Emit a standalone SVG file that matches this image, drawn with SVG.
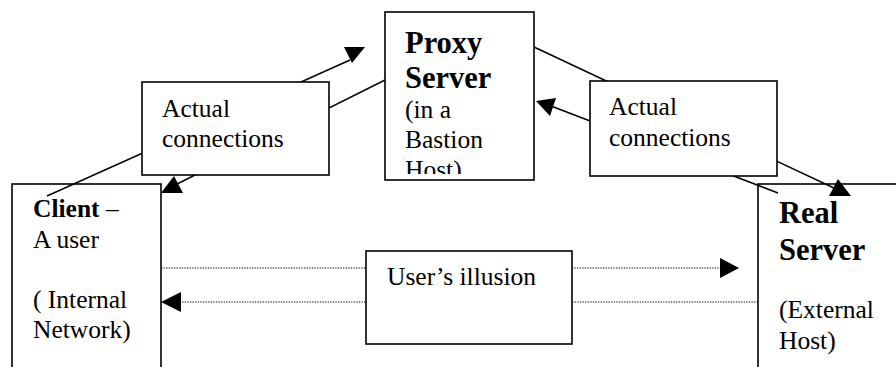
<svg xmlns="http://www.w3.org/2000/svg" width="896" height="367" viewBox="0 0 896 367">
  <style>
    .box { fill: #ffffff; stroke: #000000; stroke-width: 1.6; }
    .txt { font-family: "Liberation Serif", "Times New Roman", serif; font-size: 25.5px; fill: #000000; }
    .big { font-family: "Liberation Serif", "Times New Roman", serif; font-size: 30.5px; font-weight: bold; fill: #000000; }
    .b { font-weight: bold; }
    .line { stroke: #000000; stroke-width: 1.5; fill: none; }
    .dots { stroke: #000000; stroke-width: 1.2; stroke-dasharray: 1.3 1.3; fill: none; }
    .head { fill: #000000; stroke: none; }
  </style>
  <defs>
    <clipPath id="proxyClip">
      <rect x="385" y="12" width="149" height="162"/>
    </clipPath>
  </defs>
  <rect width="896" height="367" fill="#ffffff"/>

  <!-- end hosts -->
  <g id="client">
    <rect class="box" x="12" y="184" width="149" height="200"/>
    <text class="txt" x="33" y="217"><tspan class="b">Client</tspan> –</text>
    <text class="txt" x="33" y="248">A user</text>
    <text class="txt" x="33" y="308">( Internal</text>
    <text class="txt" x="33" y="338">Network)</text>
  </g>
  <g id="real-server">
    <rect class="box" x="758" y="184" width="160" height="200"/>
    <text class="big" x="779" y="223">Real</text>
    <text class="big" x="779" y="260">Server</text>
    <text class="txt" x="779" y="318">(External</text>
    <text class="txt" x="779" y="349">Host)</text>
  </g>

  <!-- connections -->
  <g id="connectors">
    <line class="line" x1="47" y1="196" x2="350" y2="60"/>
    <polygon class="head" points="344,47 365,47 352,63"/>
    <line class="line" x1="385" y1="80" x2="175" y2="185"/>
    <polygon class="head" points="161,193 183,193 174,176"/>
    <line class="line" x1="534" y1="47" x2="836" y2="189"/>
    <polygon class="head" points="838,179 829,196 851,196"/>
    <line class="line" x1="778" y1="193" x2="551" y2="106"/>
    <polygon class="head" points="536,101 556,98 550,116"/>
    <line class="dots" x1="161" y1="268" x2="721" y2="268"/>
    <polygon class="head" points="739,268 720,258 720,278"/>
    <line class="dots" x1="758" y1="302" x2="180" y2="302"/>
    <polygon class="head" points="161,302 181,292 181,312"/>
  </g>

  <!-- labels on the connections -->
  <g id="actual-left">
    <rect class="box" x="142" y="82" width="187" height="93"/>
    <text class="txt" x="162" y="117">Actual</text>
    <text class="txt" x="162" y="147">connections</text>
  </g>
  <g id="actual-right">
    <rect class="box" x="590" y="81" width="187" height="95"/>
    <text class="txt" x="609" y="115">Actual</text>
    <text class="txt" x="609" y="146">connections</text>
  </g>
  <g id="illusion">
    <rect class="box" x="366" y="251" width="206" height="93"/>
    <text class="txt" x="387" y="285">User’s illusion</text>
  </g>

  <!-- proxy in the middle -->
  <g id="proxy-server">
    <rect class="box" x="385" y="12" width="149" height="168"/>
    <g clip-path="url(#proxyClip)">
      <text class="big" x="405" y="53">Proxy</text>
      <text class="big" x="405" y="88">Server</text>
      <text class="txt" x="405" y="118">(in a</text>
      <text class="txt" x="405" y="148">Bastion</text>
      <text class="txt" x="405" y="178">Host)</text>
    </g>
  </g>
</svg>
